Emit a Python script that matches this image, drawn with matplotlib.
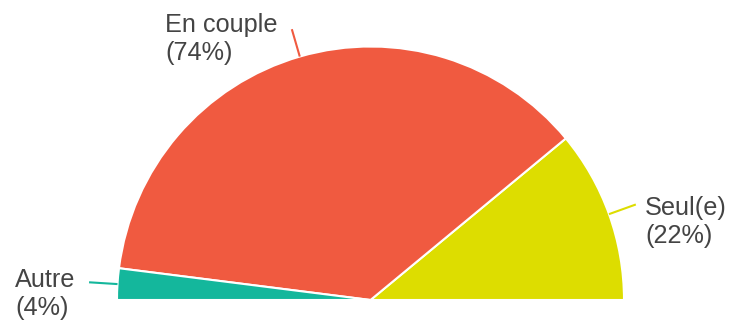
import matplotlib.pyplot as plt
import numpy as np

# Situation du foyer
categories = ["Seul(e)", "En couple", "Autre"]
valeurs = [22, 74, 4]
couleurs = ["#dddd00", "#f05a40", "#14b79c"]

W, H = 731, 324
fig = plt.figure(figsize=(W / 100, H / 100), dpi=100)
ax = fig.add_axes([0, 0, 1, 1])

cx, cy, r = 370.5, H - 300, 253.5

# demi-camembert : on complete avec une part invisible egale au total
parts = valeurs + [sum(valeurs)]
wedges, _ = ax.pie(parts, colors=couleurs + ["none"], startangle=0,
                   counterclock=True, center=(cx, cy), radius=r,
                   wedgeprops=dict(edgecolor="white", linewidth=1.5))
wedges[-1].set_edgecolor("none")

ax.set_xlim(0, W)
ax.set_ylim(0, H)
ax.set_aspect("equal")
ax.axis("off")

# traits de rappel au milieu de chaque part
total = 2 * sum(valeurs)
debut = 0
for v, c in zip(valeurs, couleurs):
    mid = np.radians((debut + v / 2) * 360 / total)
    debut += v
    ax.plot([cx + r * np.cos(mid), cx + 282 * np.cos(mid)],
            [cy + r * np.sin(mid), cy + 282 * np.sin(mid)],
            color=c, lw=1.5, solid_capstyle="butt")

# position des etiquettes (pixels, depuis le haut)
pos_labels = {"Seul(e)": (645, 215), "En couple": (165, 32), "Autre": (15, 287)}
for nom, v in zip(categories, valeurs):
    x, y = pos_labels[nom]
    ax.text(x, H - y, nom, fontsize=18.2, family="Liberation Sans",
            color="#444444", va="baseline", ha="left")
    ax.text(x, H - y - 28, "(%d%%)" % v, fontsize=18.2, family="Liberation Sans",
            color="#444444", va="baseline", ha="left")

fig.savefig("out.png", dpi=100)
